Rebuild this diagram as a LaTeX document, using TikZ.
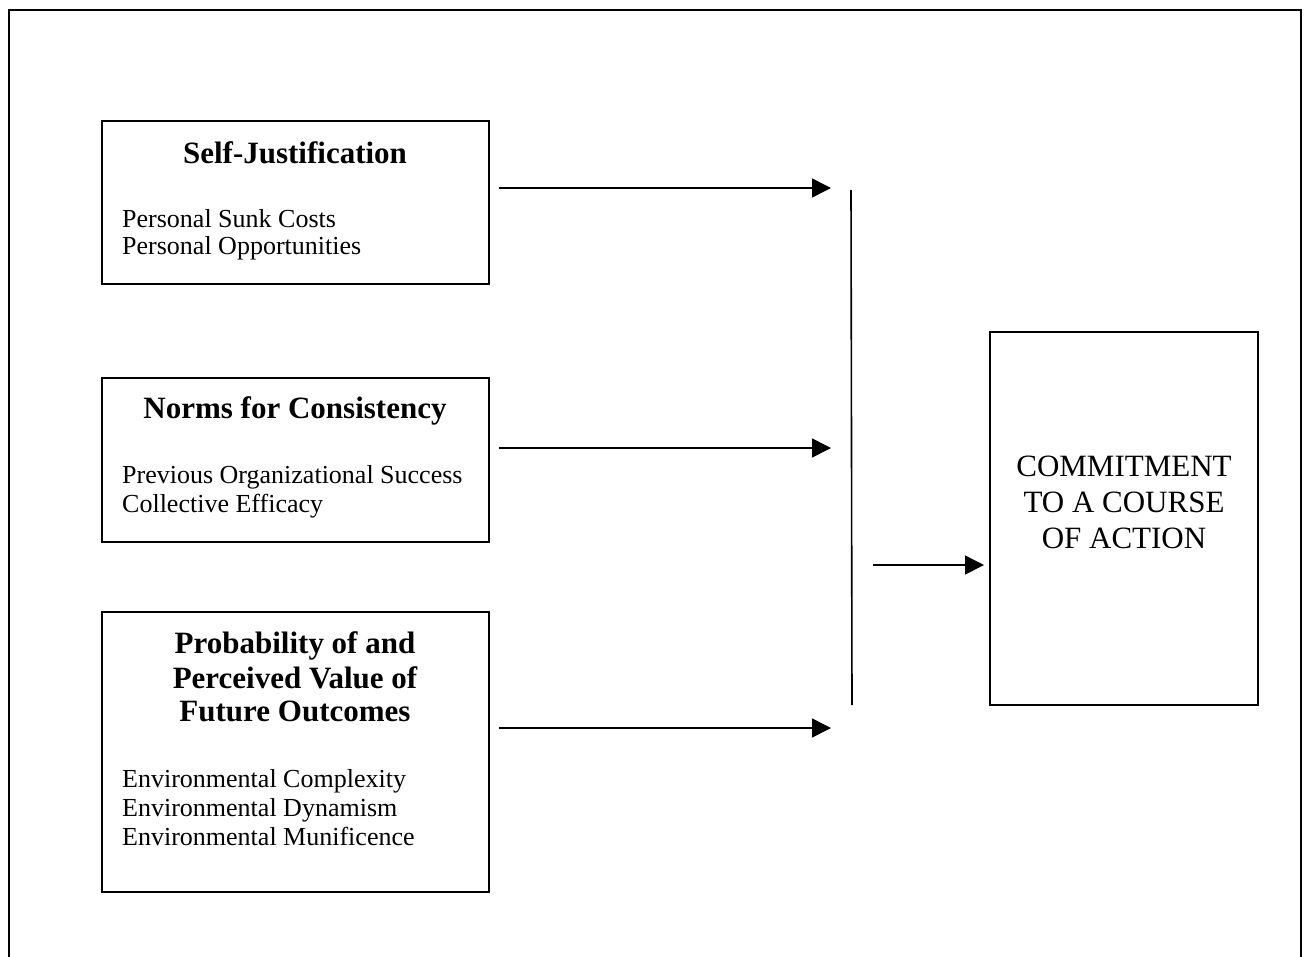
\documentclass[tikz,border=0pt]{standalone}
\usepackage{fontspec}
\setmainfont{Liberation Serif}
\usetikzlibrary{arrows.meta}
\tikzset{
  box/.style={draw=black, line width=1.6pt},
  conn/.style={draw=black, line width=1.6pt},
  arr/.style={conn, -{Triangle[length=19pt,width=19pt]}},
  ttl/.style={anchor=base, inner sep=0pt, font=\fontsize{31}{35}\selectfont\bfseries},
  itm/.style={anchor=base west, inner sep=0pt, font=\fontsize{26}{28}\selectfont},
  big/.style={anchor=base, inner sep=0pt, font=\fontsize{31}{36}\selectfont},
}
\begin{document}
\begin{tikzpicture}[x=1pt,y=-1pt]
\useasboundingbox (0,0) rectangle (1312,956);
% outer frame (open at bottom)
\draw[box] (9,970) -- (9,10) -- (1301,10) -- (1301,970);
% boxes
\draw[box] (102,121) rectangle (489,284);
\draw[box] (102,378) rectangle (489,542);
\draw[box] (102,612) rectangle (489,892);
\draw[box] (990,332) rectangle (1258,705);
% texts box 1
\node[ttl] (t1) at (295,163) {Self-Justification};
\node[itm] (i11) at (122,227) {Personal Sunk Costs};
\node[itm] (i12) at (122,254) {Personal Opportunities};
% box 2
\node[ttl] (t2) at (295,418) {Norms for Consistency};
\node[itm] (i21) at (122,483) {Previous Organizational Success};
\node[itm] (i22) at (122,512) {Collective Efficacy};
% box 3
\node[ttl] (t31) at (295,653) {Probability of and};
\node[ttl] (t32) at (295,688) {Perceived Value of};
\node[ttl] (t33) at (295,721) {Future Outcomes};
\node[itm] (i31) at (122,787) {Environmental Complexity};
\node[itm] (i32) at (122,816) {Environmental Dynamism};
\node[itm] (i33) at (122,845) {Environmental Munificence};
% commitment
\node[big] (c1) at (1124,476) {COMMITMENT};
\node[big] (c2) at (1124,512) {TO A COURSE};
\node[big] (c3) at (1124,548) {OF ACTION};
% connectors
\coordinate (a1s) at (499,188); \coordinate (a1e) at (831,188);
\coordinate (a2s) at (499,448); \coordinate (a2e) at (831,448);
\coordinate (a3s) at (499,728); \coordinate (a3e) at (831,728);
\draw[arr] (a1s) -- (a1e);
\draw[arr] (a2s) -- (a2e);
\draw[arr] (a3s) -- (a3e);
\coordinate (vt) at (851,190); \coordinate (vb) at (852,705);
\draw[conn] (vt) -- (vb);
\coordinate (a4s) at (873,565); \coordinate (a4e) at (984,565);
\draw[arr] (a4s) -- (a4e);
\end{tikzpicture}
\end{document}
